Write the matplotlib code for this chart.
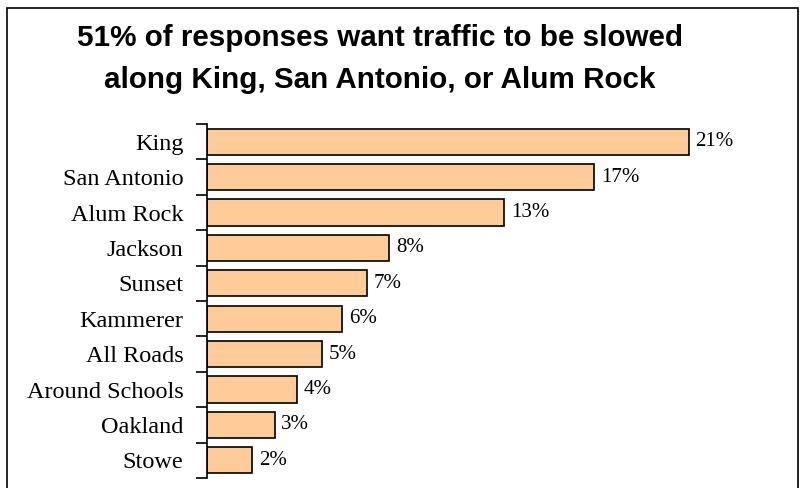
import numpy as np
import matplotlib.pyplot as plt
from matplotlib.patches import Rectangle

# data
roads = ['King', 'San Antonio', 'Alum Rock', 'Jackson', 'Sunset',
         'Kammerer', 'All Roads', 'Around Schools', 'Oakland', 'Stowe']
shares = [21.4, 17.2, 13.2, 8.1, 7.1, 6.0, 5.1, 4.0, 3.0, 2.0]
title = ('51% of responses want traffic to be slowed\n'
         'along King, San Antonio, or Alum Rock')

W, H = 805, 488
fig = plt.figure(figsize=(W / 100, H / 100), dpi=100)

# outer frame
fig.patches.append(Rectangle((7 / W, -0.1), (798 - 7) / W, 1.1 - 8 / H,
                             transform=fig.transFigure, fill=False,
                             edgecolor='black', lw=1.2))

fig.text(380 / W, 1 - 59 / H, title, ha='center', va='center',
         fontsize=21.3, fontweight='bold', family='Liberation Sans',
         linespacing=1.65)

ax = fig.add_axes([207 / W, 1 - 478 / H, (790 - 207) / W, (478 - 124) / H])
y = np.arange(len(roads))
ax.barh(y, shares, height=0.74, color='#FFCC99', edgecolor='black', lw=1.2)
for yi, v in zip(y, shares):
    ax.text(v + 0.3, yi, f'{round(v)}%', va='center', ha='left',
            fontsize=15, family='Liberation Serif')

ax.set_xlim(0, (790 - 207) / 22.5)
ax.set_ylim(len(roads) - 0.5, -0.5)
for s in ['top', 'right', 'bottom']:
    ax.spines[s].set_visible(False)
ax.spines['left'].set_linewidth(1.2)
ax.set_xticks([])
ax.set_yticks(np.arange(len(roads) + 1) - 0.5)
ax.set_yticklabels([])
ax.tick_params(axis='y', which='major', length=8, width=1.2)
ax.set_yticks(y, minor=True)
ax.set_yticklabels(roads, minor=True, fontsize=17.5, family='Liberation Serif')
ax.tick_params(axis='y', which='minor', length=0, pad=17)

fig.savefig('out.png', dpi=100)
